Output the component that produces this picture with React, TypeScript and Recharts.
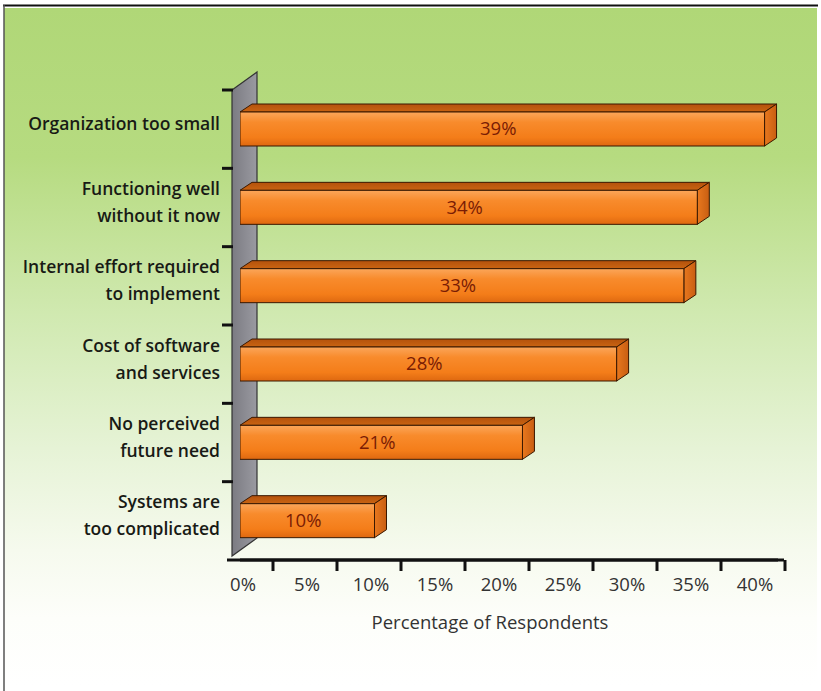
import React from 'react';
import { BarChart, Bar, XAxis, YAxis, LabelList } from 'recharts';

const categories = [
  'Organization too small',
  'Functioning well\nwithout it now',
  'Internal effort required\nto implement',
  'Cost of software\nand services',
  'No perceived\nfuture need',
  'Systems are\ntoo complicated',
];
const percentages = [39, 34, 33, 28, 21, 10];
const tickValues = [0, 5, 10, 15, 20, 25, 30, 35, 40];
const axisTitle = 'Percentage of Respondents';

const data = categories.map((name, i) => ({ name, value: percentages[i] }));

const W = 821;
const H = 691;
const PLOT_LEFT = 240;
const PLOT_RIGHT = 778;
const PLOT_TOP = 90;
const PLOT_BOTTOM = 560;
const Y_AXIS_W = 220;
const X_AXIS_H = 73;
const BAND = (PLOT_BOTTOM - PLOT_TOP) / categories.length;
const DX = 12;
const DY = -8;
const FONT = '"Open Sans", Lato, sans-serif';

const Bar3D = (props: any) => {
  const { x, y, width, height } = props;
  if (!width || width <= 0) return null;
  const x2 = x + width;
  const y2 = y + height;
  return (
    <g>
      <polygon
        points={`${x},${y} ${x + DX},${y + DY} ${x2 + DX},${y + DY} ${x2},${y}`}
        fill="url(#barTop)"
        stroke="#3a1800"
        strokeWidth={1}
        strokeLinejoin="round"
      />
      <polygon
        points={`${x2},${y} ${x2 + DX},${y + DY} ${x2 + DX},${y2 + DY} ${x2},${y2}`}
        fill="url(#barSide)"
        stroke="#3a1800"
        strokeWidth={1}
        strokeLinejoin="round"
      />
      <rect x={x} y={y} width={width} height={height} fill="url(#barFront)" stroke="#3a1800" strokeWidth={1} />
    </g>
  );
};

const ValueLabel = (props: any) => {
  const { x, y, width, height, value } = props;
  return (
    <text
      x={x + width / 2 - 4}
      y={y + height / 2}
      dy="0.35em"
      textAnchor="middle"
      fontFamily={FONT}
      fontSize={18.5}
      fill="#7a1c04"
    >
      {value}%
    </text>
  );
};

const YTick = (props: any) => {
  const { x, y, payload } = props;
  const lines = String(payload.value).split('\n');
  const lh = 27;
  const cy = y - 5;
  const start = cy - ((lines.length - 1) * lh) / 2;
  return (
    <g>
      <line x1={x + 2} x2={x + 13} y1={y - BAND / 2} y2={y - BAND / 2} stroke="#111" strokeWidth={3} />
      <text textAnchor="end" fontFamily={FONT} fontWeight={600} fontSize={17.5} fill="#181a15">
        {lines.map((l, i) => (
          <tspan key={i} x={x} y={start + i * lh} dy="0.35em">
            {l}
          </tspan>
        ))}
      </text>
    </g>
  );
};

const XTick = (props: any) => {
  const { x, y, payload } = props;
  return (
    <g>
      <line x1={x + 30} x2={x + 30} y1={PLOT_BOTTOM} y2={PLOT_BOTTOM + 11} stroke="#111" strokeWidth={3} />
      <text x={x} y={y + 31} textAnchor="middle" fontFamily={FONT} fontSize={18.5} fill="#333">
        {payload.value}%
      </text>
    </g>
  );
};

const Background = () => (
  <svg width={W} height={H} style={{ position: 'absolute', left: 0, top: 0 }}>
    <defs>
      <linearGradient id="bgGrad" x1="0" y1="0" x2="0" y2="1">
        <stop offset="0%" stopColor="#b0d777" />
        <stop offset="22%" stopColor="#b6db80" />
        <stop offset="45%" stopColor="#d0e9b0" />
        <stop offset="65%" stopColor="#e6f3d6" />
        <stop offset="80%" stopColor="#f6faee" />
        <stop offset="90%" stopColor="#fdfefa" />
        <stop offset="100%" stopColor="#ffffff" />
      </linearGradient>
      <linearGradient id="wallGrad" x1="0" y1="0" x2="1" y2="0">
        <stop offset="0%" stopColor="#7b7b82" />
        <stop offset="100%" stopColor="#9a9aa1" />
      </linearGradient>
    </defs>
    <rect x={0} y={0} width={W} height={H} fill="#ffffff" />
    <rect x={4} y={8} width={813} height={678} fill="url(#bgGrad)" />
    <line x1={3} x2={818} y1={5.5} y2={5.5} stroke="#111" strokeWidth={2} />
    <line x1={4} x2={4} y1={5} y2={H} stroke="#555" strokeWidth={1.5} />
    <polygon
      points={`${PLOT_LEFT - 8},${PLOT_TOP} ${PLOT_LEFT + 17},${PLOT_TOP - 18} ${PLOT_LEFT + 17},${PLOT_BOTTOM - 22} ${PLOT_LEFT - 8},${PLOT_BOTTOM - 4}`}
      fill="url(#wallGrad)"
      stroke="#333"
      strokeWidth={1.2}
    />
    <line x1={PLOT_LEFT - 13} x2={PLOT_RIGHT + 6} y1={PLOT_BOTTOM} y2={PLOT_BOTTOM} stroke="#111" strokeWidth={3} />
  </svg>
);

export default function App() {
  return (
    <div style={{ position: 'absolute', left: 0, top: 0, width: W, height: H }}>
      <Background />
      <div style={{ position: 'absolute', left: 0, top: 0 }}>
        <BarChart
          width={W}
          height={H}
          data={data}
          layout="vertical"
          margin={{ top: PLOT_TOP, right: W - PLOT_RIGHT, bottom: H - PLOT_BOTTOM - X_AXIS_H, left: PLOT_LEFT - Y_AXIS_W }}
        >
          <defs>
            <linearGradient id="barFront" x1="0" y1="0" x2="0" y2="1">
              <stop offset="0%" stopColor="#fba65a" />
              <stop offset="30%" stopColor="#f88b2c" />
              <stop offset="75%" stopColor="#f47d19" />
              <stop offset="100%" stopColor="#de6810" />
            </linearGradient>
            <linearGradient id="barTop" x1="0" y1="0" x2="0" y2="1">
              <stop offset="0%" stopColor="#b4520c" />
              <stop offset="100%" stopColor="#c96412" />
            </linearGradient>
            <linearGradient id="barSide" x1="0" y1="0" x2="1" y2="0">
              <stop offset="0%" stopColor="#e8781e" />
              <stop offset="100%" stopColor="#c85e12" />
            </linearGradient>
          </defs>
          <XAxis
            xAxisId="labels"
            type="number"
            domain={[0, 40]}
            allowDataOverflow
            ticks={tickValues}
            interval={0}
            padding={{ left: 3, right: 23 }}
            height={X_AXIS_H}
            axisLine={{ stroke: '#111', strokeWidth: 3 }}
            tickLine={false}
            tickSize={0}
            tickMargin={0}
            tick={<XTick />}
            label={{
              value: axisTitle,
              position: 'insideBottom',
              offset: 4,
              dx: -19,
              fill: '#333',
              fontSize: 18.5,
              fontFamily: FONT,
            }}
          />
          <XAxis xAxisId="bars" type="number" domain={[0, 40]} allowDataOverflow height={0} hide />
          <YAxis
            type="category"
            dataKey="name"
            width={Y_AXIS_W}
            axisLine={false}
            tickLine={false}
            tickSize={0}
            tickMargin={20}
            interval={0}
            tick={<YTick />}
          />
          <Bar
            xAxisId="bars"
            dataKey="value"
            barSize={34}
            shape={<Bar3D />}
            isAnimationActive={false}
          >
            <LabelList dataKey="value" content={<ValueLabel />} />
          </Bar>
        </BarChart>
      </div>
    </div>
  );
}
